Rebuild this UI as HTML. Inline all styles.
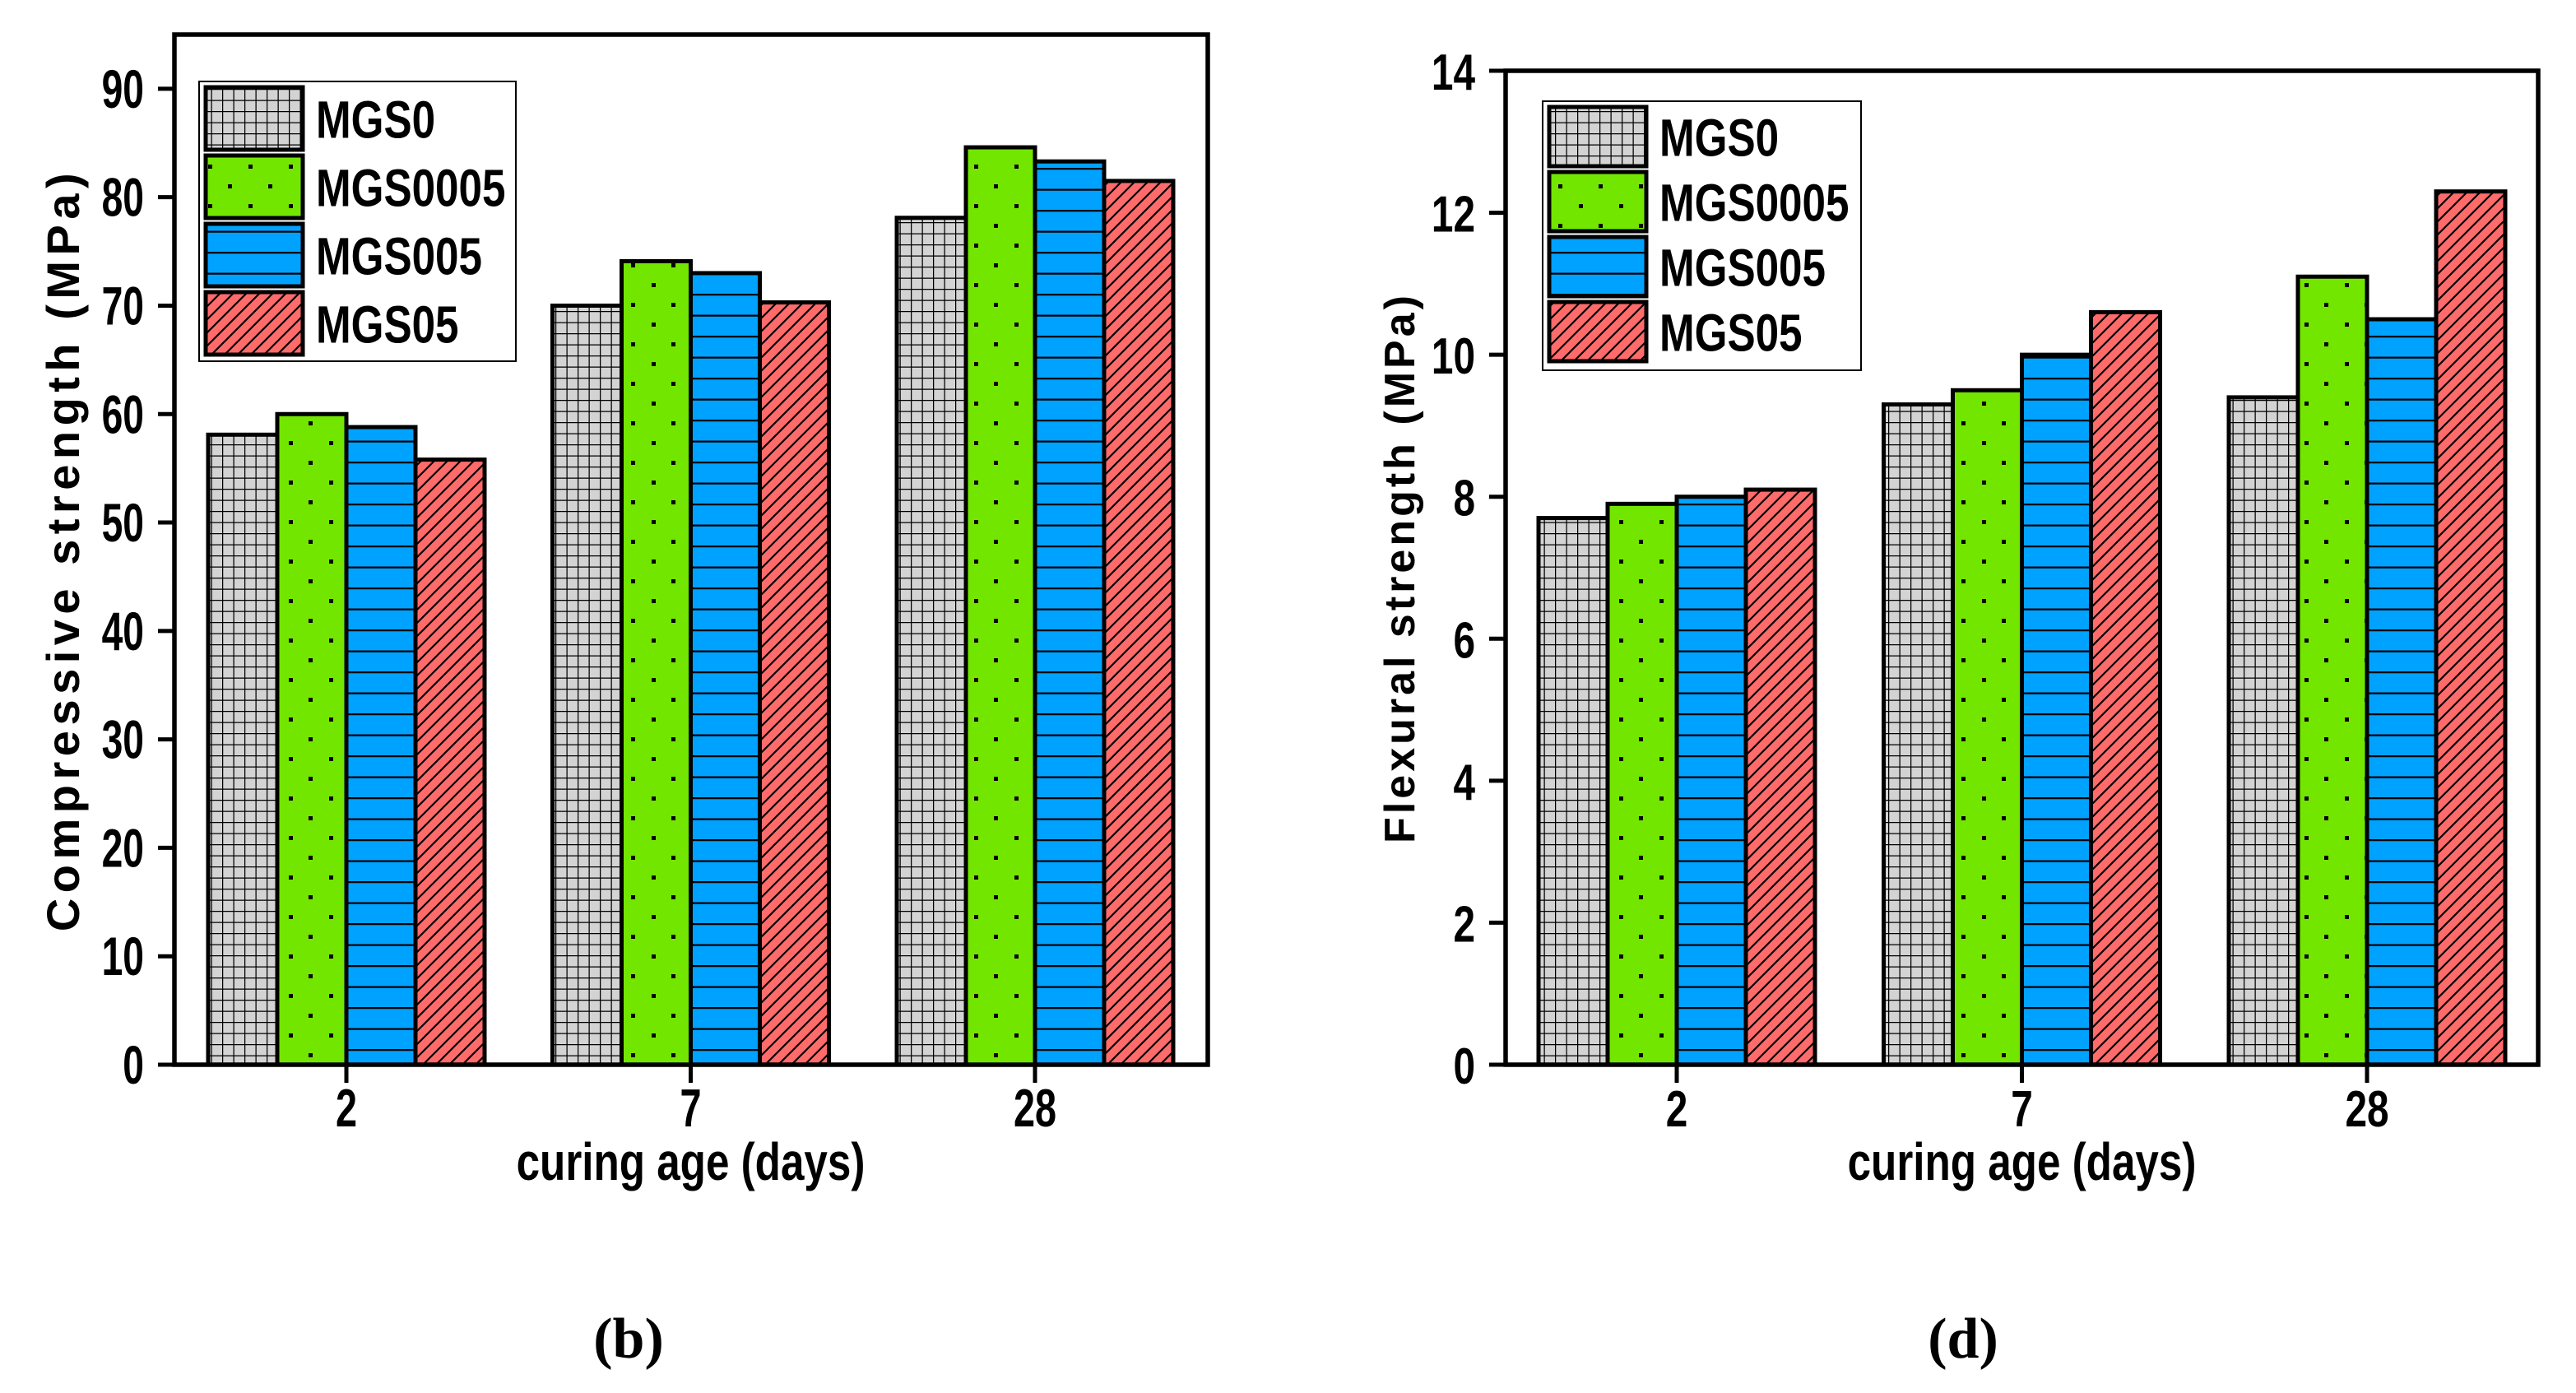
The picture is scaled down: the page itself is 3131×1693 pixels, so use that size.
<!DOCTYPE html>
<html><head><meta charset="utf-8">
<style>
html,body{margin:0;padding:0;background:#fff;}
svg{display:block;}
.t{font-family:"Liberation Sans",sans-serif;font-weight:bold;fill:#000;}
</style></head>
<body>
<svg id="fig" width="3131" height="1693" viewBox="0 0 3131 1693" xmlns="http://www.w3.org/2000/svg">
<defs>
<pattern id="pGrid" width="13.5" height="13.5" patternUnits="userSpaceOnUse">
<rect width="13.5" height="13.5" fill="#d3d3d3"/>
<path d="M0 0H13.5M0 0V13.5" stroke="#000" stroke-width="2.5"/>
</pattern>
<pattern id="pDot" width="49" height="48" patternUnits="userSpaceOnUse">
<rect width="49" height="48" fill="#73e600"/>
<rect x="8" y="8" width="5" height="5" fill="#000"/>
<rect x="32" y="32" width="5" height="5" fill="#000"/>
</pattern>
<pattern id="pLine" width="20" height="25.5" patternUnits="userSpaceOnUse">
<rect width="20" height="25.5" fill="#00a2ff"/>
<path d="M0 1H20" stroke="#000" stroke-width="2.5"/>
</pattern>
<pattern id="pHatch" width="16" height="16" patternUnits="userSpaceOnUse">
<rect width="16" height="16" fill="#ff6b6b"/>
<path d="M-4 4L4 -4M0 16L16 0M12 20L20 12" stroke="#000" stroke-width="2.2"/>
</pattern>
</defs>
<g id="c1"></g>
<g id="c2"></g>
<text x="764" y="1650" font-family="Liberation Serif,serif" font-weight="bold" font-size="70" text-anchor="middle">(b)</text>
<text x="2386" y="1650" font-family="Liberation Serif,serif" font-weight="bold" font-size="70" text-anchor="middle">(d)</text>
</svg>
<script>
const categories = ["2","7","28"];
const seriesNames = ["MGS0","MGS0005","MGS005","MGS05"];
const comp_MGS0 = [58.1, 70.0, 78.1];
const comp_MGS0005 = [60.0, 74.1, 84.6];
const comp_MGS005 = [58.8, 73.0, 83.3];
const comp_MGS05 = [55.8, 70.3, 81.5];
const compTicks = [0,10,20,30,40,50,60,70,80,90];
const flex_MGS0 = [7.7, 9.3, 9.4];
const flex_MGS0005 = [7.9, 9.5, 11.1];
const flex_MGS005 = [8.0, 10.0, 10.5];
const flex_MGS05 = [8.1, 10.6, 12.3];
const flexTicks = [0,2,4,6,8,10,12,14];

const NS="http://www.w3.org/2000/svg";
const fills=["url(#pGrid)","url(#pDot)","url(#pLine)","url(#pHatch)"];
function mk(parent,tag,attrs,text){const e=document.createElementNS(NS,tag);for(const k in attrs)e.setAttribute(k,attrs[k]);if(text!==undefined)e.textContent=text;parent.appendChild(e);return e;}
function ntext(parent,x,y,size,sx,anchor,str,weight){
  return mk(parent,'text',{x:0,y:0,'font-size':size,'text-anchor':anchor,class:'t','font-weight':weight||'bold',transform:`translate(${x},${y}) scale(${sx},1)`},str);
}

function drawChart(g,cfg){
  const {L,T,R,B,ymax,series,ticks,ytitle,ytx,ytls,ytsize,boldX,leg,c0,step,yl,xl}=cfg;
  const y=v=>B-(v/ymax)*(B-T);
  const xc=i=>c0+step*i;
  const bw=84;
  series.forEach((vals,s)=>{
    vals.forEach((v,i)=>{
      const r=mk(g,'rect',{x:xc(i)-2*bw+s*bw,y:y(v),width:bw,height:B-y(v),fill:fills[s],stroke:'#000','stroke-width':5});
      
      
    });
  });
  const f=mk(g,'rect',{x:L,y:T,width:R-L,height:B-T,fill:'none',stroke:'#000','stroke-width':5.5});
  
  
  ticks.forEach(t=>{
    mk(g,'line',{x1:L-20,x2:L,y1:y(t),y2:y(t),stroke:'#000','stroke-width':5});
    const tl=ntext(g,L-37,y(t)+23,yl.size,yl.sx,'end',String(t));
    
    
  });
  categories.forEach((c,i)=>{
    mk(g,'line',{x1:xc(i),x2:xc(i),y1:B,y2:B+22,stroke:'#000','stroke-width':5});
    const tl=ntext(g,xc(i),B+75,xl.size,xl.sx,'middle',c,boldX?'bold':'normal');
    
    
  });
  const xt=ntext(g,xc(1),B+140,64,0.8,'middle','curing age (days)');
  
  
  const yt=mk(g,'text',{x:0,y:0,'font-size':ytsize,'text-anchor':'middle',class:'t','letter-spacing':ytls,transform:`translate(${ytx},${(T+B)/2}) rotate(-90)`},ytitle);
  
  
  const lg=mk(g,'g',{});
  
  
  mk(lg,'rect',{x:leg.x,y:leg.y,width:leg.w,height:leg.h,fill:'#fff',stroke:'#000','stroke-width':2});
  seriesNames.forEach((n,s)=>{
    const e=mk(lg,'g',{});
    
    
    const sy=leg.y+7+s*leg.rowH;
    mk(e,'rect',{x:leg.x+8,y:sy,width:118,height:leg.rowH-7,fill:fills[s],stroke:'#000','stroke-width':5});
    ntext(e,leg.x+142,sy+leg.rowH/2+20,64,0.8,'start',n);
  });
}
drawChart(document.getElementById('c1'),{L:212,T:42,R:1468,B:1294,ymax:95,c0:421,step:418.5,
  series:[comp_MGS0,comp_MGS0005,comp_MGS005,comp_MGS05],ticks:compTicks,
  ytitle:'Compressive strength (MPa)',ytx:96,ytls:6.5,ytsize:56,boldX:false,
  yl:{size:66,sx:0.7},xl:{size:65,sx:0.72},
  leg:{x:242,y:99,w:385,h:340,rowH:83}});
drawChart(document.getElementById('c2'),{L:1830,T:86,R:3085,B:1294,ymax:14,c0:2038,step:419.5,
  series:[flex_MGS0,flex_MGS0005,flex_MGS005,flex_MGS05],ticks:flexTicks,
  ytitle:'Flexural strength (MPa)',ytx:1719,ytls:4,ytsize:52,boldX:true,
  yl:{size:62,sx:0.77},xl:{size:62,sx:0.77},
  leg:{x:1875,y:123,w:387,h:327,rowH:79}});
</script>
</body></html>
